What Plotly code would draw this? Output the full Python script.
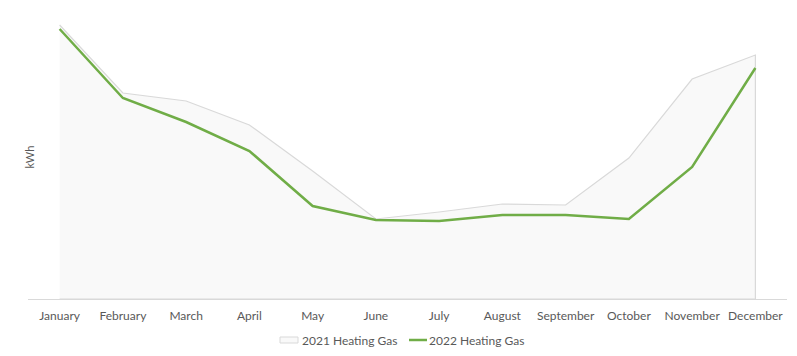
import plotly.graph_objects as go

months = ["January", "February", "March", "April", "May", "June", "July",
          "August", "September", "October", "November", "December"]
heating_2021 = [274, 206, 198, 174, 128, 80, 87, 95, 94, 141, 220, 244]
heating_2022 = [270, 201, 177, 148, 93, 79, 78, 84, 84, 80, 132, 231]
series_names = ["2021 Heating Gas", "2022 Heating Gas"]

GRAY_LINE = "#d9d9d9"
GRAY_FILL = "#f9f9f9"
GREEN = "#70ad47"

fig = go.Figure()
fig.add_trace(go.Scatter(
    x=months + [months[-1], months[0]],
    y=heating_2021 + [0, 0],
    fill="toself", mode="lines",
    line=dict(color=GRAY_LINE, width=1.2),
    fillcolor=GRAY_FILL,
    name=series_names[0], showlegend=False,
))
fig.add_trace(go.Scatter(
    x=months, y=heating_2022, mode="lines",
    line=dict(color=GREEN, width=2.5),
    name=series_names[1], showlegend=False,
))

# plot area: x 28..787 px, y 15..299 px
W, H, L, T, B = 759.0, 284.0, 28.0, 15.0, 299.0
def px(xp):
    return (xp - L) / W
def py(yp):
    return (B - yp) / H

shapes = [
    dict(type="rect", xref="paper", yref="paper",
         x0=px(280), x1=px(298), y0=py(343), y1=py(337),
         line=dict(color=GRAY_LINE, width=1), fillcolor=GRAY_FILL),
    dict(type="line", xref="paper", yref="paper",
         x0=px(409), x1=px(427), y0=py(340), y1=py(340),
         line=dict(color=GREEN, width=2.5)),
]
annotations = [
    dict(text="kWh", x=px(20), y=0.5, xref="paper", yref="paper",
         textangle=-90, showarrow=False, font=dict(size=11, color="#595959")),
    dict(text=series_names[0], x=px(300), y=py(340), xref="paper", yref="paper",
         xanchor="left", yanchor="middle", showarrow=False,
         font=dict(size=12, color="#595959")),
    dict(text=series_names[1], x=px(427), y=py(340), xref="paper", yref="paper",
         xanchor="left", yanchor="middle", showarrow=False,
         font=dict(size=12, color="#595959")),
]

fig.update_layout(
    width=797, height=356,
    margin=dict(l=28, r=10, t=15, b=57, autoexpand=False),
    paper_bgcolor="white", plot_bgcolor="white",
    font=dict(family="Lato, Open Sans, sans-serif", size=12, color="#595959"),
    showlegend=False,
    xaxis=dict(type="category", categoryorder="array", categoryarray=months,
               range=[-0.5, 11.5], showgrid=False, showline=True,
               linecolor=GRAY_LINE, linewidth=1, ticks="", zeroline=False,
               automargin=False, ticklabelstandoff=6,
               tickfont=dict(size=12, color="#595959")),
    yaxis=dict(range=[0, 284], showgrid=False, showticklabels=False,
               zeroline=False, showline=False, ticks="", automargin=False),
    shapes=shapes,
    annotations=annotations,
)

fig.write_html("out.html", config={"displayModeBar": False},
               post_script="document.body.style.margin='0';")
